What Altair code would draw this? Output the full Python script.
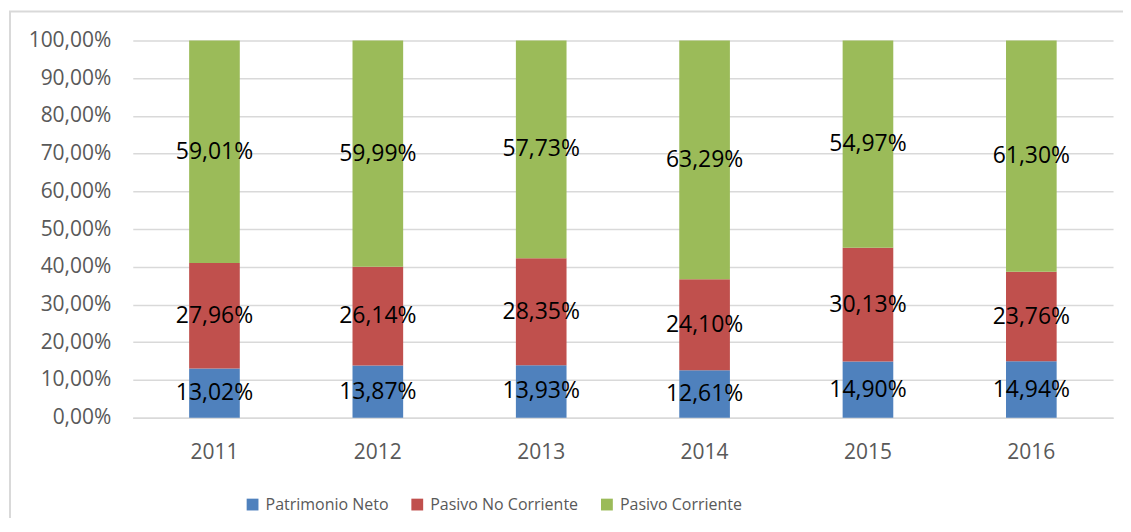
import altair as alt
import pandas as pd

years = ["2011", "2012", "2013", "2014", "2015", "2016"]
series = ["Patrimonio Neto", "Pasivo No Corriente", "Pasivo Corriente"]
patrimonio_neto = [13.02, 13.87, 13.93, 12.61, 14.90, 14.94]
pasivo_no_corriente = [27.96, 26.14, 28.35, 24.10, 30.13, 23.76]
pasivo_corriente = [59.01, 59.99, 57.73, 63.29, 54.97, 61.30]
colors = ["#4F81BD", "#C0504D", "#9BBB59"]
y_ticks = [0, 0.1, 0.2, 0.3, 0.4, 0.5, 0.6, 0.7, 0.8, 0.9, 1.0]

rows = []
for i, y in enumerate(years):
    for k, (name, vals) in enumerate(zip(series, [patrimonio_neto, pasivo_no_corriente, pasivo_corriente])):
        v = vals[i]
        rows.append({"year": y, "series": name, "order": k, "value": v,
                     "label": f"{v:.2f}".replace(".", ",") + "%"})
df = pd.DataFrame(rows)

W, H = 982, 378
FONT = "Open Sans"

base = alt.Chart(df).transform_stack(
    stack="value", groupby=["year"], as_=["v0", "v1"], offset="normalize",
    sort=[alt.SortField("order", order="ascending")]
).transform_calculate(mid="(datum.v0 + datum.v1) / 2")

xaxis = alt.Axis(title=None, labelAngle=0, labelFontSize=21, labelFont=FONT,
                 labelColor="#595959", labelPadding=24, ticks=False,
                 domainColor="#D9D9D9", domainWidth=1.5)
yaxis = alt.Axis(title=None, values=y_ticks, tickCount=50,
                 labelExpr="replace(format(datum.value*100, '.2f'), '.', ',') + '%'",
                 labelFontSize=21, labelFont=FONT, labelColor="#595959",
                 labelPadding=22, ticks=False, domain=False, labelOverlap=False,
                 gridColor="#D9D9D9", gridWidth=1.5)
xscale = alt.Scale(paddingInner=0.69, paddingOuter=0.345)
yscale = alt.Scale(domain=[0, 1], nice=False)

bars = base.mark_bar().encode(
    x=alt.X("year:N", sort=years, scale=xscale, axis=xaxis),
    y=alt.Y("v0:Q", scale=yscale, axis=yaxis),
    y2="v1:Q",
    color=alt.Color("series:N", sort=series,
                    scale=alt.Scale(domain=series, range=colors),
                    legend=alt.Legend(title=None, orient="none", direction="horizontal",
                                      legendX=112, legendY=457, symbolType="square",
                                      symbolSize=140, symbolStrokeWidth=0, symbolOpacity=1,
                                      labelFont=FONT, labelFontSize=16, labelColor="#595959",
                                      labelLimit=400, columnPadding=20, labelOffset=5)),
    order=alt.Order("order:Q"),
)

labels = base.mark_text(font=FONT, fontSize=23, color="#000000", baseline="middle").encode(
    x=alt.X("year:N", sort=years, scale=xscale, axis=xaxis),
    y=alt.Y("mid:Q", scale=yscale, axis=yaxis),
    text="label:N",
)

border = alt.Chart(alt.Data(values=[{}])).mark_rect(
    fill=None, stroke="#D9D9D9", strokeWidth=2
).encode(
    x=alt.value(-123), x2=alt.value(W + 40),
    y=alt.value(-29), y2=alt.value(H + 140),
)

chart = alt.layer(border, bars, labels).properties(
    width=W, height=H,
    padding={"left": 125, "top": 32, "right": 10, "bottom": 100},
    autosize=alt.AutoSizeParams(type="none"),
    background="white",
).configure_view(stroke=None).configure_axis(labelFont=FONT)

chart.save("out.html", embed_options={"renderer": "svg", "actions": False})
